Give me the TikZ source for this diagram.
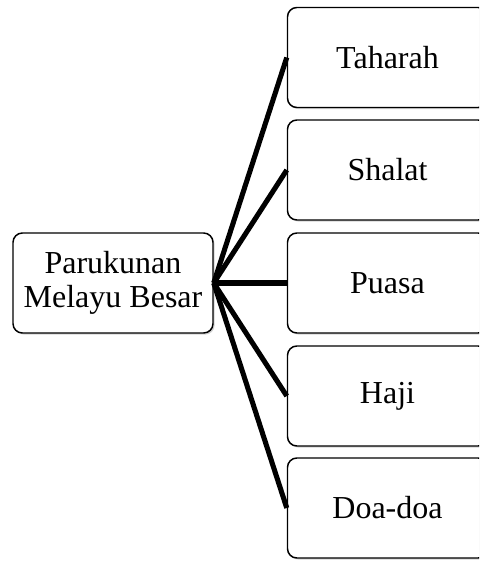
\documentclass[tikz,border=0pt]{standalone}
\usepackage{fontspec}
\setmainfont{Liberation Serif}
\usetikzlibrary{shadows}

\tikzset{
    kotak/.style={draw, line width=1.1pt, rounded corners=7pt, fill=white,
        minimum width=150pt, minimum height=75pt, align=center,
        font=\fontsize{24}{25}\selectfont,
        drop shadow={shadow xshift=1.2pt, shadow yshift=-1.2pt, opacity=0.35}},
    garis/.style={line width=3.8pt}
}

\begin{document}
\begin{tikzpicture}[x=0.75pt, y=-0.75pt]
    %BATAS
    \useasboundingbox (0,0) rectangle (479,561);
    \clip (0,0) rectangle (479,561);

    %INDUK
    \node[kotak] (induk) at (113,283) {Parukunan\\Melayu Besar};

    %CABANG
    \node[kotak] (taharah) at (387.5,57.5) {Taharah};
    \node[kotak] (shalat) at (387.5,170) {Shalat};
    \node[kotak] (puasa) at (387.5,283) {Puasa};
    \node[kotak] (haji) at (387.5,396) {Haji};
    \node[kotak] (doa) at (387.5,508) {Doa-doa};

    %GARIS
    \foreach \n in {taharah,shalat,puasa,haji,doa}
        \draw[garis] (induk.east) -- (\n.west);

\end{tikzpicture}
\end{document}
